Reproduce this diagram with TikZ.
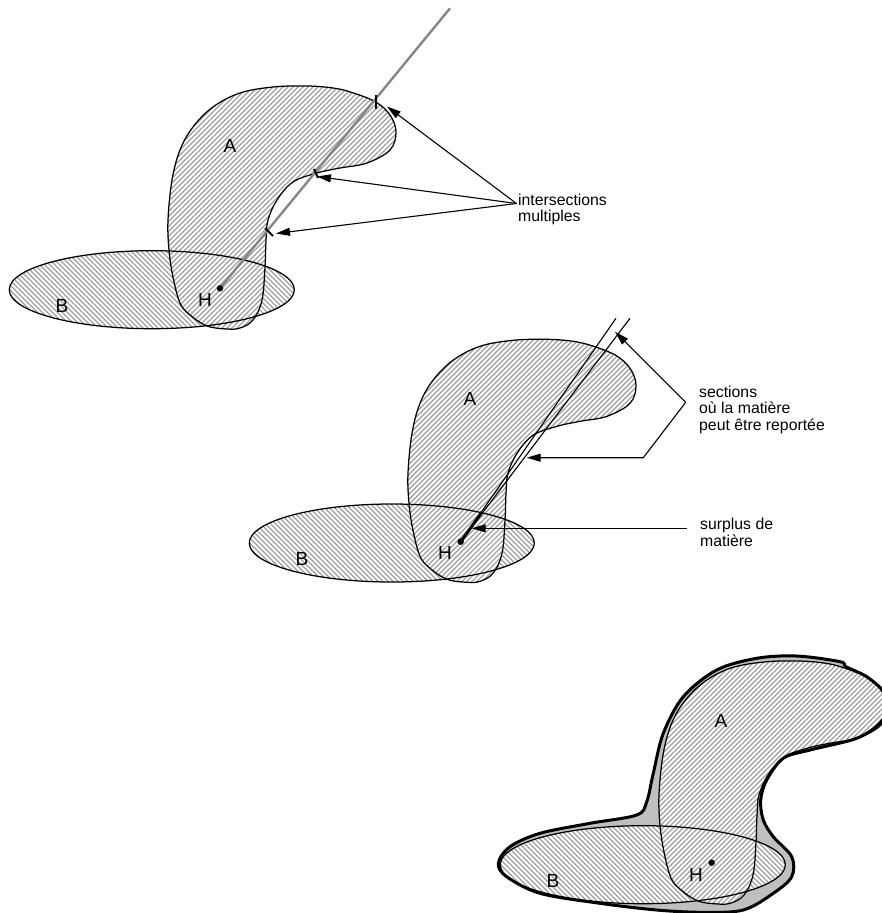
\documentclass[tikz,border=0pt]{standalone}
\usepackage{fontspec}
\setmainfont{Liberation Sans}
\usetikzlibrary{arrows.meta}
\definecolor{hatchgray}{gray}{0.62}
\newcommand{\shapeApath}{plot[smooth cycle,tension=0.6] coordinates {(307,86)(333,88)(352,92.5)(375.7,102)(390,115)(396,132)(390,150)(367,163)(340,168)(317,173)(293,182)(277,200)(268,220)(266,240)(265,267)(262,300)(253,320)(240,328)(227,329)(207,326)(190,315)(180,303)(173,277)(169,250)(168,220)(172,180)(180,150)(193,127)(213,107)(240,93)(273,87)}}
\newcommand{\shapeBpath}{(151.8,289.7) ellipse [x radius=142.5,y radius=39]}
\newcommand{\outerpath}{plot[smooth cycle,tension=0.55] coordinates {(796.7,656)(840,661.7)(846,666.7)(866.7,676.7)(884,692)(888,707)(880,723)(856.7,738.3)(810,750)(783.3,758.3)(766.7,780)(760.7,800)(763.3,820)(773.3,836.7)(791.7,856.7)(791.7,876.7)(773.3,893.3)(743.3,910)(703,912.3)(656.7,910)(600,903.3)(540,893.3)(506.7,876.7)(498.3,863.3)(510,846.7)(540,833.3)(590,823.3)(636.7,815)(646.7,801.7)(653.3,773.3)(663.3,733.3)(683.3,696.7)(716.7,670)(756.7,658.3)}}
\tikzset{
  outline/.style={draw=black,line width=1.25pt},
  hatchline/.style={draw=hatchgray,line width=1.15pt},
  callout/.style={draw=black,line width=1.1pt,-{Triangle[length=14pt,width=8pt]}},
  plainline/.style={draw=black,line width=1.1pt},
  note/.style={font=\fontsize{15.8}{16.5}\selectfont,anchor=base west,inner sep=0pt,align=left},
  letter/.style={font=\fontsize{19}{20}\selectfont,inner sep=0pt},
  dot/.style={circle,fill=black,inner sep=0pt,minimum size=6.5pt},
  tick/.style={draw=black,line width=2pt},
}
\newcommand{\blob}{%
  \begin{scope}\clip \shapeBpath;
    \foreach \c in {-400,-395,...,400}{\draw[hatchline] (\c,200) -- ++(200,200);}
  \end{scope}
  \fill[white] \shapeApath;
  \begin{scope}\clip \shapeApath;
    \foreach \c in {200,205,...,800}{\draw[hatchline] (\c,0) -- ++(-500,500);}
  \end{scope}
  \draw[outline] \shapeApath;
  \draw[outline] \shapeBpath;
  \node[letter] (A\pname) at (230,145.5) {A};
  \node[letter] (B\pname) at (62,305.5) {B};
  \node[letter] (H\pname) at (205,299.5) {H};
}
\begin{document}
\begin{tikzpicture}[x=1pt,y=-1pt]
\useasboundingbox (0,0) rectangle (881,913);

% first panel
\def\pname{one}
\blob
\coordinate (Hp) at (220,288.3);
\coordinate (rayend) at (450,8.3);
\draw[draw=gray!95,line width=2.4pt] (Hp) -- (rayend);
\node[dot] (Hdot) at (Hp) {};
\coordinate (t1a) at (375.7,95); \coordinate (t1b) at (375.7,109);
\coordinate (t2a) at (314,169); \coordinate (t2b) at (318,178);
\coordinate (t3a) at (265,228); \coordinate (t3b) at (273,236);
\draw[tick] (t1a) -- (t1b);
\draw[tick] (t2a) -- (t2b);
\draw[tick] (t3a) -- (t3b);
\node[note] (inter) at (518,221.7) {intersections\\multiples};
\coordinate (src) at (516.5,203.5);
\coordinate (a1) at (387,106.5);
\coordinate (a2) at (317,176.5);
\coordinate (a3) at (276,233.5);
\draw[callout] (src) -- (a1);
\draw[callout] (src) -- (a2);
\draw[callout] (src) -- (a3);

% second panel
\begin{scope}[shift={(240,253.3)}]
\def\pname{two}
\blob
\end{scope}
\coordinate (H2) at (460.7,541.7);
\coordinate (l1) at (616,318.3);
\coordinate (l2) at (630,318.3);
\coordinate (thickend) at (482,512);
\draw[plainline] (H2) -- (l1);
\draw[plainline] (H2) -- (l2);
\draw[draw=black,line width=3pt] (H2) -- (thickend);
\node[dot] (Hdot2) at (H2) {};
\node[note] (sect) at (699,430) {sections\\où la matière\\peut être reportée};
\coordinate (elbowR) at (685.7,402.3);
\coordinate (elbowB) at (643.3,457.7);
\coordinate (b1) at (615,331.7);
\coordinate (b2) at (526.7,457.7);
\draw[callout] (elbowR) -- (b1);
\draw[callout] (elbowR) -- (elbowB) -- (b2);
\node[note] (surplus) at (700,546) {surplus de\\matière};
\coordinate (c0) at (686.7,528.3);
\coordinate (c1) at (471.7,528.3);
\draw[callout] (c0) -- (c1);

% third panel
\fill[black!25] \outerpath;
\begin{scope}[shift={(491,575)}]
\def\pname{three}
\fill[white] \shapeBpath;
\blob
\end{scope}
\draw[draw=black,line width=3pt] \outerpath;
\coordinate (H3) at (711.7,862.7);
\node[dot] (Hdot3) at (H3) {};
\end{tikzpicture}
\end{document}
